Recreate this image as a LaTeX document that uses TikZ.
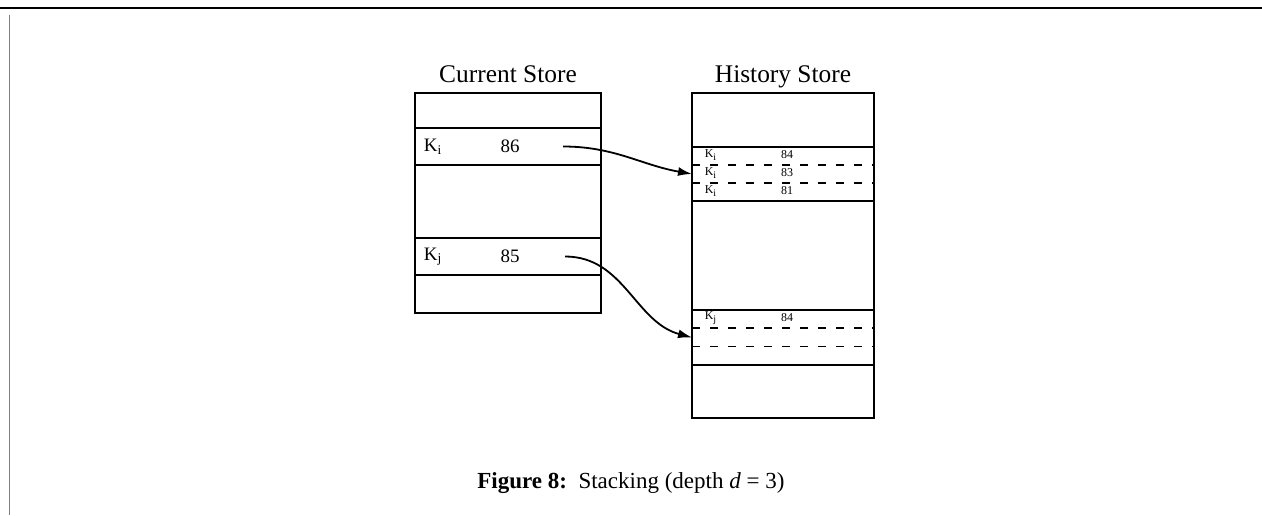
\documentclass[tikz,border=0pt]{standalone}
\usepackage{fontspec}
\setmainfont{Liberation Serif}
\usetikzlibrary{calc,arrows.meta,positioning}

\begin{document}
\begin{tikzpicture}[x=1pt,y=1pt,
    box/.style={draw,line width=0.9pt,inner sep=0pt,outer sep=0pt},
    slot/.style={inner sep=0pt,outer sep=0pt,minimum width=91pt,minimum height=9pt},
    dashrule/.style={line width=0.9pt,dash pattern=on 4pt off 5pt},
    title/.style={font=\fontsize{12.7}{14}\selectfont,anchor=base},
    big/.style={font=\fontsize{9.5}{11}\selectfont,inner sep=0pt},
    small/.style={font=\fontsize{6}{7}\selectfont,inner sep=0pt},
    link/.style={line width=0.9pt,-{Latex[length=7pt,width=4.5pt]}}]
  \useasboundingbox (0,0) rectangle (631,257.5);
  % page frame
  \draw[line width=1pt] (0,253.5) -- (631,253.5);
  \draw[line width=0.4pt,gray] (4.5,250) -- (4.5,0);

  % current store
  \node[title] (ctitle) at (254,216) {Current Store};
  \node[box,minimum width=93pt,minimum height=110pt] (cur) at (254,156) {};
  \node[box,minimum width=93pt,minimum height=18.5pt] (ci) at (254,184.25) {};
  \node[box,minimum width=93pt,minimum height=18.5pt] (cj) at (254,129.25) {};
  \node[big] (cik) at (216.5,184.25) {K\textsubscript{i}};
  \node[big] (civ) at (255,184.25) {86};
  \node[big] (cjk) at (216.5,129.25) {K\textsubscript{j}};
  \node[big] (cjv) at (255,129.25) {85};
  \coordinate (ciout) at (281.5,184.25);
  \coordinate (cjout) at (282.5,129.25);

  % history store
  \node[title] (htitle) at (391.5,216) {History Store};
  \node[box,minimum width=91pt,minimum height=162.5pt] (hist) at (391.5,129.75) {};
  \foreach \n/\y in {1/179.5,2/170.5,3/161.5}
    \node[slot] (hi\n) at (391.5,\y) {};
  \foreach \n/\y in {1/98,2/88.75,3/79.5}
    \node[slot] (hj\n) at (391.5,\y) {};
  \draw[line width=0.9pt] (hi1.north west) -- (hi1.north east)
    (hi3.south west) -- (hi3.south east)
    (hj1.north west) -- (hj1.north east)
    (hj3.south west) -- (hj3.south east);
  \draw[dashrule] (hi1.south west) -- (hi1.south east)
    (hi2.south west) -- (hi2.south east)
    (hj1.south west) -- (hj1.south east)
    (hj2.south west) -- (hj2.south east);
  \foreach \n/\v in {1/84,2/83,3/81}{
    \node[small] (hik\n) at ($(hi\n)+(-36,0.5)$) {K\textsubscript{i}};
    \node[small] (hiv\n) at ($(hi\n)+(2,0.5)$) {\v};
  }
  \node[small] (hjk1) at ($(hj1)+(-36,0.5)$) {K\textsubscript{j}};
  \node[small] (hjv1) at ($(hj1)+(2,0.5)$) {84};

  % links
  \draw[link] (ciout) to[out=0,in=170] (hi2.west);
  \draw[link] (cjout) to[out=0,in=165] (hj2.west);

  % caption
  \node[font=\fontsize{11.5}{13}\selectfont,anchor=west,inner sep=0pt] (cap) at (238.5,16)
    {\textbf{Figure 8:}\ \ Stacking (depth \textit{d} = 3)};
\end{tikzpicture}
\end{document}
